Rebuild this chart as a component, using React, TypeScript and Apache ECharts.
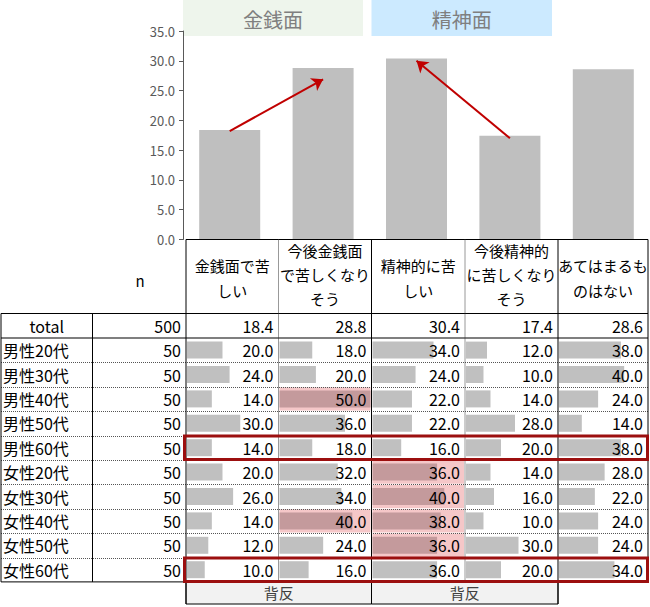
import React, { useEffect, useRef } from "react";
import * as echarts from "echarts";

// ---------- data ----------
const categories = [
  "金銭面で苦しい",
  "今後金銭面で苦しくなりそう",
  "精神的に苦しい",
  "今後精神的に苦しくなりそう",
  "あてはまるものはない",
];
const headerLines = [
  ["金銭面で苦", "しい"],
  ["今後金銭面", "で苦しくなり", "そう"],
  ["精神的に苦", "しい"],
  ["今後精神的", "に苦しくなり", "そう"],
  ["あてはまるも", "のはない"],
];
const totalLabel = "total";
const totalN = 500;
const totalValues = [18.4, 28.8, 30.4, 17.4, 28.6];
const rowLabels = [
  "男性20代", "男性30代", "男性40代", "男性50代", "男性60代",
  "女性20代", "女性30代", "女性40代", "女性50代", "女性60代",
];
const rowN = [50, 50, 50, 50, 50, 50, 50, 50, 50, 50];
const col1 = [20.0, 24.0, 14.0, 30.0, 14.0, 20.0, 26.0, 14.0, 12.0, 10.0];
const col2 = [18.0, 20.0, 50.0, 36.0, 18.0, 32.0, 34.0, 40.0, 24.0, 16.0];
const col3 = [34.0, 24.0, 22.0, 22.0, 16.0, 36.0, 40.0, 38.0, 36.0, 36.0];
const col4 = [12.0, 10.0, 14.0, 28.0, 20.0, 14.0, 16.0, 10.0, 30.0, 20.0];
const col5 = [38.0, 40.0, 24.0, 14.0, 38.0, 28.0, 22.0, 24.0, 24.0, 34.0];
const columns = [col1, col2, col3, col4, col5];
// highlighted cells [column, row]
const highlights = [[1, 2], [1, 7], [2, 5], [2, 6], [2, 7], [2, 8]];
// rows framed in red
const framedRows = [4, 9];
const groupLabels = ["金銭面", "精神面"];
const footerLabel = "背反";
const nHeader = "n";
const yMin = 0;
const yMax = 35;
const yInterval = 5;
// arrows: [categoryIndex, value]
const arrowFrom = [[0, 18.2], [3, 17.0]];
const arrowTo = [[1, 26.9], [2, 30.0]];

// ---------- layout ----------
const FONT = "'Noto Sans CJK JP', 'Noto Sans', sans-serif";
const colX = [1, 92.5, 186, 278.5, 371.5, 465, 558, 648];
const headerTop = 239.5;
const tableTop = 313.5;
const rowH = 24.4;
const nRows = 11;
const tableBottom = tableTop + nRows * rowH;
const footerBottom = 604;
const scaleMax = [51, 50, 51, 52, 54];

function isHL(c: number, r: number) {
  return highlights.some((h) => h[0] === c && h[1] === r);
}

export default function App() {
  const ref = useRef<HTMLDivElement>(null);
  useEffect(() => {
    if (!ref.current) return;
    const chart = echarts.init(ref.current, null, { renderer: "svg" });

    const grids: any[] = [{ left: 183, top: 31, width: 467, height: 208.5 }];
    const xAxes: any[] = [
      {
        type: "category",
        gridIndex: 0,
        data: categories,
        axisLine: { show: false },
        axisTick: { show: false },
        axisLabel: { show: false },
      },
    ];
    const yAxes: any[] = [
      {
        type: "value",
        gridIndex: 0,
        min: yMin,
        max: yMax,
        interval: yInterval,
        axisLine: { show: true, lineStyle: { color: "#595959", width: 1 } },
        axisTick: { show: true, length: 4, lineStyle: { color: "#595959" } },
        splitLine: { show: false },
        axisLabel: {
          formatter: (v: number) => v.toFixed(1),
          color: "#595959",
          fontSize: 13,
          fontFamily: FONT,
          margin: 8,
        },
      },
    ];
    const series: any[] = [
      {
        type: "bar",
        xAxisIndex: 0,
        yAxisIndex: 0,
        data: totalValues,
        barWidth: 61,
        itemStyle: { color: "#bfbfbf" },
        markLine: {
          silent: true,
          symbol: ["none", "arrow"],
          symbolSize: 11,
          label: { show: false },
          lineStyle: { color: "#c00000", width: 2, type: "solid" },
          data: arrowFrom.map((f, i) => [
            { coord: [categories[f[0]], f[1]] },
            { coord: [categories[arrowTo[i][0]], arrowTo[i][1]] },
          ]),
        },
      },
    ];

    columns.forEach((vals, c) => {
      const gi = c + 1;
      grids.push({
        left: colX[c + 2] + 1,
        top: tableTop + rowH,
        width: colX[c + 3] - colX[c + 2] - 2,
        height: 10 * rowH,
      });
      xAxes.push({ type: "value", gridIndex: gi, min: 0, max: scaleMax[c], show: false });
      const yA = yAxes.length;
      yAxes.push({ type: "category", gridIndex: gi, data: rowLabels, inverse: true, show: false });
      const yB = yAxes.length;
      yAxes.push({ type: "category", gridIndex: gi, data: rowLabels, inverse: true, show: false });
      const xi = xAxes.length - 1;
      series.push({
        type: "bar",
        xAxisIndex: xi,
        yAxisIndex: yA,
        barWidth: rowH - 1,
        barGap: "-100%",
        z: 1,
        silent: true,
        data: vals.map((_, r) => ({
          value: scaleMax[c],
          itemStyle: { color: isHL(c, r) ? "#f5c7c8" : "rgba(0,0,0,0)" },
        })),
      });
      series.push({
        type: "bar",
        xAxisIndex: xi,
        yAxisIndex: yB,
        barWidth: 17,
        z: 2,
        silent: true,
        data: vals.map((v, r) => ({
          value: v,
          itemStyle: { color: isHL(c, r) ? "#c49a9c" : "#c0c0c0" },
        })),
      });
      series.push({
        type: "bar",
        xAxisIndex: xi,
        yAxisIndex: yA,
        barWidth: rowH - 1,
        barGap: "-100%",
        z: 3,
        silent: true,
        itemStyle: { color: "rgba(0,0,0,0)" },
        label: {
          show: true,
          position: "insideRight",
          distance: 4,
          fontSize: 16,
          fontFamily: FONT,
          color: "#000",
          formatter: (p: any) => vals[p.dataIndex].toFixed(1),
        },
        data: vals.map(() => scaleMax[c]),
      });
    });

    const g: any[] = [];
    const text = (t: string, x: number, y: number, align: string, size = 16, color = "#000", z = 10) =>
      g.push({
        type: "text",
        silent: true,
        z,
        style: { text: t, x, y, align, verticalAlign: "middle", fontSize: size, fontFamily: FONT, fill: color },
      });
    const line = (x1: number, y1: number, x2: number, y2: number, stroke = "#000", lw = 1, dash?: number[], z = 10) =>
      g.push({
        type: "line",
        silent: true,
        z,
        shape: { x1, y1, x2, y2 },
        style: { stroke, lineWidth: lw, lineDash: dash || null },
      });

    // group header boxes
    const boxes = [
      { x: 183, w: 180, fill: "#eef5ec" },
      { x: 371.5, w: 180.5, fill: "#cceaff" },
    ];
    boxes.forEach((b, i) => {
      g.push({ type: "rect", silent: true, z: 0, shape: { x: b.x, y: 0, width: b.w, height: 36 }, style: { fill: b.fill } });
      text(groupLabels[i], b.x + b.w / 2, 19, "center", 20, "#7f7f7f", 1);
    });

    // header texts
    text(nHeader, 140, 280, "center", 15);
    headerLines.forEach((lines, c) => {
      const cx = (colX[c + 2] + colX[c + 3]) / 2;
      const sp = lines.length === 3 ? 24 : 25;
      const cy = lines.length === 3 ? 274 : 277.5;
      lines.forEach((ln, k) => {
        text(ln, cx, cy + (k - (lines.length - 1) / 2) * sp, "center", 15);
      });
    });

    // total row
    const ty = tableTop + rowH / 2;
    text(totalLabel, (colX[0] + colX[1]) / 2, ty, "center");
    text(String(totalN), colX[2] - 5, ty, "right");
    totalValues.forEach((v, c) => text(v.toFixed(1), colX[c + 3] - 5, ty, "right"));
    // data rows labels & n
    rowLabels.forEach((lb, r) => {
      const y = tableTop + (r + 1.5) * rowH;
      text(lb, 3, y, "left");
      text(String(rowN[r]), colX[2] - 5, y, "right");
    });

    // horizontal lines
    line(colX[2], headerTop, colX[7], headerTop);
    line(colX[0], tableTop, colX[7], tableTop);
    line(colX[0], tableTop + rowH, colX[7], tableTop + rowH, "#7f7f7f", 2);
    for (let r = 2; r < nRows; r++) {
      const y = Math.round(tableTop + r * rowH) + 0.5;
      line(colX[0], y, colX[7], y, "#555", 1, [1, 1]);
    }
    line(colX[0], tableBottom, colX[7], tableBottom);

    // vertical lines
    line(colX[0], tableTop, colX[0], tableBottom);
    line(colX[1], tableTop, colX[1], tableBottom);
    line(colX[2], headerTop, colX[2], footerBottom);
    line(colX[3], headerTop, colX[3], tableBottom, "#333", 1, [1, 1]);
    line(colX[4], headerTop, colX[4], footerBottom);
    line(colX[5], headerTop, colX[5], tableBottom, "#333", 1, [1, 1]);
    line(colX[6], headerTop, colX[6], footerBottom);
    line(colX[7], headerTop, colX[7], tableBottom);

    // footer
    [[colX[2], colX[4]], [colX[4], colX[6]]].forEach(([a, b]) => {
      g.push({
        type: "rect",
        silent: true,
        z: 9,
        shape: { x: a, y: tableBottom, width: b - a, height: footerBottom - tableBottom },
        style: { fill: "#f2f2f2", stroke: "#000", lineWidth: 1 },
      });
      text(footerLabel, (a + b) / 2, (tableBottom + footerBottom) / 2, "center", 15, "#404040");
    });

    // red frames
    framedRows.forEach((r) => {
      const top = tableTop + (r + 1) * rowH;
      g.push({
        type: "rect",
        silent: true,
        z: 20,
        shape: { x: 184.5, y: top + 0.5, width: 463, height: rowH - 1 },
        style: { fill: "none", stroke: "#9c0f0f", lineWidth: 3 },
      });
    });

    chart.setOption({
      animation: false,
      backgroundColor: "#fff",
      grid: grids,
      xAxis: xAxes,
      yAxis: yAxes,
      series,
      graphic: g,
    });
    return () => chart.dispose();
  }, []);

  return (
    <div
      ref={ref}
      style={{ position: "fixed", left: 0, top: 0, width: 650, height: 607, background: "#fff" }}
    />
  );
}
